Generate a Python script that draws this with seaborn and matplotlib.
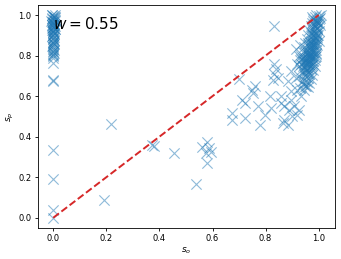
import matplotlib
matplotlib.use("Agg")
import matplotlib.pyplot as plt
import seaborn as sns

# values
left_x = [-0.005, 0.0, 0.005, 0.008, -0.004, 0.002, 0.006, -0.006, 0.0, 0.004,
          -0.003, 0.007, 0.001, -0.005, 0.005, 0.0, -0.002, 0.004, 0.0, 0.003,
          -0.002, 0.002, 0.0, 0.001, -0.001, 0.002, 0.0, 0.001, 0.0, 0.0,
          0.0, 0.0, 0.0, 0.0, 0.0, 0.0, 0.0,
          0.006, -0.006, 0.003, -0.003, 0.007, -0.007, 0.0, 0.004, -0.004, 0.002,
          -0.002, 0.005, -0.005, 0.001, -0.001, 0.003, -0.003, 0.0, 0.002, -0.002,
          0.004, -0.004, 0.001, 0.0, 0.002, -0.001, 0.0, 0.001]
left_y = [1.0, 0.995, 0.99, 0.985, 0.98, 0.975, 0.97, 0.965, 0.96, 0.955,
          0.95, 0.945, 0.94, 0.935, 0.93, 0.925, 0.92, 0.91, 0.9, 0.89,
          0.88, 0.87, 0.86, 0.85, 0.84, 0.83, 0.82, 0.81, 0.8, 0.79,
          0.765, 0.682, 0.675, 0.335, 0.19, 0.04, 0.0,
          1.0, 0.998, 0.992, 0.987, 0.978, 0.972, 0.968, 0.958, 0.952, 0.948,
          0.942, 0.932, 0.928, 0.918, 0.915, 0.905, 0.895, 0.885, 0.875, 0.865,
          0.855, 0.845, 0.835, 0.825, 0.815, 0.805, 0.86, 0.9]

mid_x = [0.191, 0.216, 0.372, 0.38, 0.455, 0.537, 0.562, 0.58, 0.586, 0.574,
         0.58, 0.593, 0.673, 0.71, 0.698, 0.673, 0.722, 0.722, 0.747, 0.759,
         0.753, 0.772, 0.778, 0.796, 0.815, 0.833, 0.833, 0.84, 0.833, 0.846,
         0.827, 0.821, 0.858, 0.87, 0.864, 0.895, 0.889, 0.901, 0.907, 0.92,
         0.883, 0.87, 0.895, 0.883, 0.92, 0.914, 0.926, 0.932, 0.914, 0.938,
         0.951, 0.932, 0.895, 0.858, 0.926]
mid_y = [0.089, 0.464, 0.36, 0.352, 0.318, 0.169, 0.351, 0.376, 0.343, 0.318,
         0.268, 0.326, 0.517, 0.583, 0.685, 0.483, 0.492, 0.566, 0.632, 0.649,
         0.616, 0.55, 0.459, 0.508, 0.6, 0.944, 0.757, 0.732, 0.707, 0.69,
         0.682, 0.541, 0.566, 0.483, 0.467, 0.583, 0.533, 0.5, 0.55, 0.508,
         0.459, 0.55, 0.723, 0.674, 0.632, 0.69, 0.748, 0.781, 0.831, 0.674,
         0.649, 0.6, 0.624, 0.6, 0.533]

right_x = [0.99, 0.985, 1.0, 0.98, 0.995, 1.005, 0.975, 0.99, 1.0, 0.97,
           0.985, 0.995, 0.965, 0.98, 0.99, 0.96, 0.975, 0.985, 0.995, 0.955,
           0.97, 0.98, 0.99, 0.95, 0.965, 0.975, 0.985, 0.945, 0.96, 0.97,
           0.98, 0.99, 0.94, 0.955, 0.965, 0.975, 0.985, 0.935, 0.95, 0.96,
           0.97, 0.98, 0.93, 0.945, 0.955, 0.965, 0.975, 0.985, 0.94, 0.95,
           0.96, 0.97, 0.98, 0.935, 0.945, 0.955, 0.965, 0.975, 0.95, 0.96,
           0.97, 0.945, 0.955, 0.965, 0.94, 0.95, 0.96, 0.93, 0.945, 0.925,
           0.92, 0.925, 0.93, 0.995, 1.0, 1.005, 0.995, 0.99, 0.98, 0.97,
           0.96, 0.95, 0.94, 0.935, 0.99, 0.985, 0.99, 0.975, 0.965, 0.955,
           0.945, 0.96, 0.97, 0.98, 0.975, 0.985, 0.98, 1.0, 1.01, 0.975,
           0.992, 0.988, 0.983, 0.978, 0.972, 0.968, 0.962, 0.958, 0.952, 0.948,
           0.995, 0.99, 0.985, 0.98, 0.975, 0.97, 0.965, 0.96, 0.955, 0.95,
           1.0, 0.995, 0.99, 0.985, 0.98, 0.975, 0.97, 0.965, 0.96, 0.955,
           0.988, 0.982, 0.978, 0.972, 0.968, 0.962, 0.958, 0.952, 0.993, 0.997]
right_y = [1.0, 0.99, 0.995, 0.98, 0.975, 0.985, 0.96, 0.955, 0.96, 0.945,
           0.94, 0.93, 0.925, 0.915, 0.91, 0.9, 0.895, 0.885, 0.88, 0.88,
           0.87, 0.865, 0.86, 0.86, 0.85, 0.845, 0.84, 0.84, 0.83, 0.825,
           0.82, 0.815, 0.82, 0.81, 0.805, 0.8, 0.795, 0.8, 0.79, 0.785,
           0.78, 0.775, 0.78, 0.77, 0.765, 0.76, 0.755, 0.75, 0.75, 0.745,
           0.74, 0.735, 0.73, 0.73, 0.72, 0.715, 0.71, 0.705, 0.7, 0.69,
           0.685, 0.68, 0.67, 0.665, 0.66, 0.65, 0.645, 0.64, 0.63, 0.7,
           0.76, 0.8, 0.85, 0.9, 0.87, 0.95, 0.96, 0.97, 0.9, 0.91,
           0.86, 0.82, 0.79, 0.76, 0.8, 0.78, 0.83, 0.82, 0.78, 0.74,
           0.71, 0.72, 0.75, 0.76, 0.93, 0.95, 0.97, 0.98, 1.0, 0.99,
           0.935, 0.905, 0.875, 0.855, 0.835, 0.815, 0.795, 0.775, 0.755, 0.735,
           0.965, 0.945, 0.925, 0.9, 0.88, 0.86, 0.84, 0.815, 0.79, 0.77,
           0.92, 0.89, 0.87, 0.85, 0.8, 0.79, 0.8, 0.77, 0.76, 0.73,
           0.81, 0.83, 0.85, 0.84, 0.86, 0.8, 0.82, 0.78, 0.85, 0.9]

s_o = left_x + mid_x + right_x
s_p = left_y + mid_y + right_y
w = 0.55

fig = plt.figure(figsize=(3.41, 2.59), dpi=100)
ax = fig.add_axes([0.111, 0.12, 0.871, 0.861])

sns.scatterplot(x=s_o, y=s_p, marker='x', s=55, alpha=0.5, color='tab:blue',
                linewidth=0.8, ax=ax)
sns.lineplot(x=[0, 1], y=[0, 1], color='tab:red', linestyle='--', linewidth=1.4,
             ax=ax)

ax.text(0.0, 0.955, f'$w={w}$', fontsize=11, va='center', ha='left')

ax.set_xticks([0.0, 0.2, 0.4, 0.6, 0.8, 1.0])
ax.set_yticks([0.0, 0.2, 0.4, 0.6, 0.8, 1.0])
ax.tick_params(labelsize=6, length=2.5, width=0.6, pad=2)
for sp in ax.spines.values():
    sp.set_linewidth(0.6)
ax.set_xlabel('$s_o$', fontsize=6.5, labelpad=2)
ax.set_ylabel('$s_p$', fontsize=6.5, labelpad=2)

fig.savefig('out.png', dpi=100)
